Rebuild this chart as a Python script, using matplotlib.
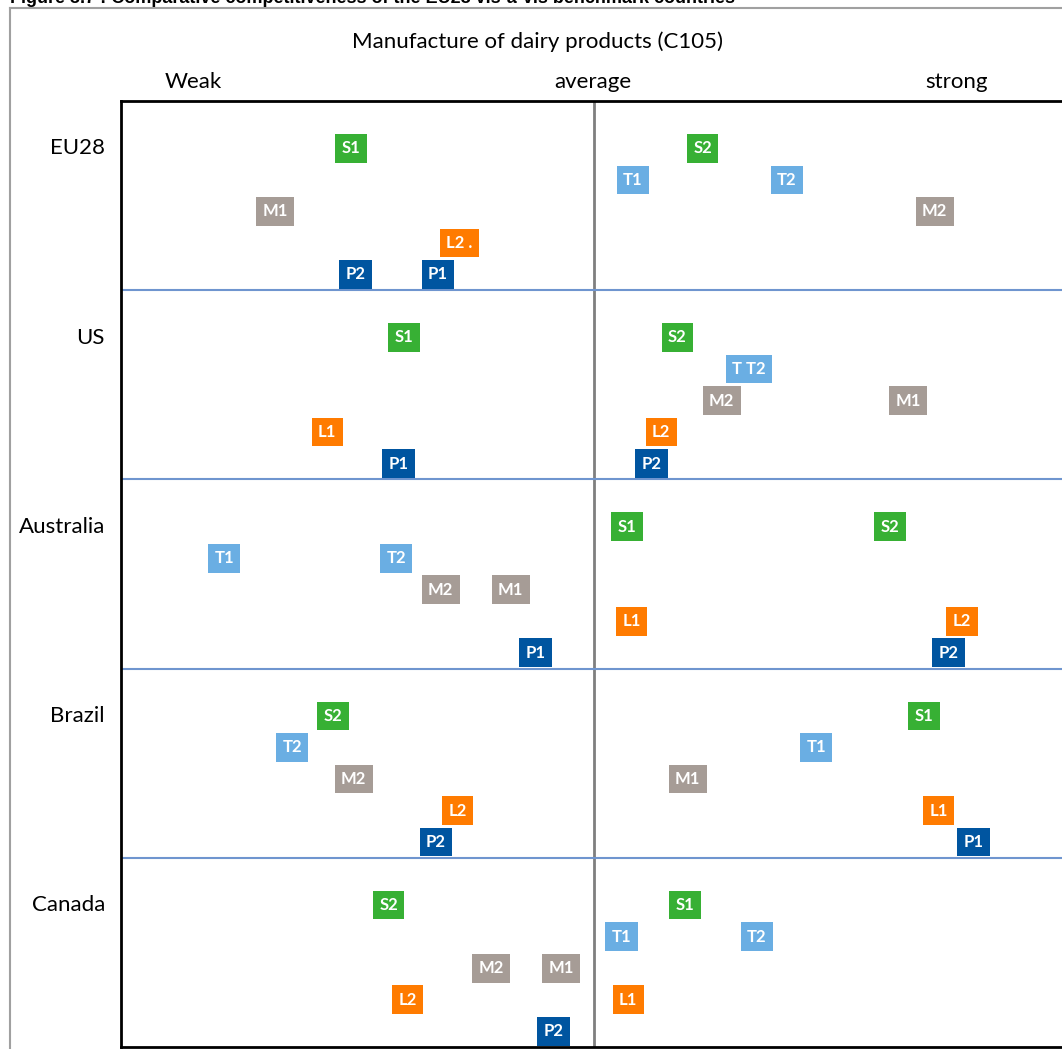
import matplotlib.pyplot as plt
from matplotlib.lines import Line2D

# Comparative competitiveness chart, dairy products (C105)
countries = ["EU28", "US", "Australia", "Brazil", "Canada"]
levels = {"S": 0, "T": 1, "M": 2, "L": 3, "P": 4}
colors = {"S": "#37b034", "T": "#6aaee3", "M": "#a69c96",
          "L": "#ff7b00", "P": "#0055a0"}

eu28_labels = ["S1", "S2", "T1", "T2", "M1", "M2", "L2 .", "P2", "P1"]
eu28_x = [24.3, 61.5, 54.1, 70.4, 16.3, 86.0, 35.8, 24.8, 33.5]

us_labels = ["S1", "S2", "T T2", "M2", "M1", "L1", "L2", "P1", "P2"]
us_x = [29.9, 58.8, 66.4, 63.5, 83.2, 21.8, 57.1, 29.3, 56.1]

aus_labels = ["S1", "S2", "T1", "T2", "M2", "M1", "L1", "L2", "P1", "P2"]
aus_x = [53.5, 81.3, 10.9, 29.1, 33.8, 41.2, 54.0, 88.9, 43.8, 87.5]

bra_labels = ["S2", "S1", "T2", "T1", "M2", "M1", "L2", "L1", "P2", "P1"]
bra_x = [22.4, 84.9, 18.1, 73.5, 24.6, 59.9, 35.6, 86.4, 33.3, 90.1]

can_labels = ["S2", "S1", "T1", "T2", "M2", "M1", "L2", "L1", "P2"]
can_x = [28.3, 59.6, 52.9, 67.2, 39.1, 46.5, 30.3, 53.6, 45.7]

all_labels = [eu28_labels, us_labels, aus_labels, bra_labels, can_labels]
all_x = [eu28_x, us_x, aus_x, bra_x, can_x]

W, H = 1062, 1049
fig = plt.figure(figsize=(W / 100, H / 100), dpi=100)
fig.patch.set_facecolor("white")

# caption, mostly cut off at the top edge (as in the source page)
fig.text(10 / W, 1 - 3 / H,
         "Figure 3.7 : Comparative competitiveness of the EU28 vis-\u00e0-vis benchmark countries",
         fontsize=13, fontweight="bold", family="Liberation Sans", va="baseline", ha="left")

# outer frame
fig.add_artist(Line2D([10 / W, 10 / W], [0, 1 - 8 / H], color="#a0a0a0", lw=1.5))
fig.add_artist(Line2D([10 / W, 1], [1 - 8 / H, 1 - 8 / H], color="#a0a0a0", lw=1.5))

plt.rcParams["font.family"] = ["Lato", "DejaVu Sans"]

ax_left, ax_right, ax_top, ax_bot = 121, 1067, 101, 1047
ax = fig.add_axes([ax_left / W, (H - ax_bot) / H,
                   (ax_right - ax_left) / W, (ax_bot - ax_top) / H])
ax.set_xlim(0, 100)
ax.set_ylim(30, 0)
ax.set_xticks([])
ax.set_yticks([])
for side in ["top", "left", "bottom", "right"]:
    ax.spines[side].set_linewidth(2)
    ax.spines[side].set_color("black")

ax.axvline(50, color="#7f7f7f", lw=2, zorder=1)
for i in range(1, 5):
    ax.axhline(i * 6, color="#6f95cf", lw=1.5, zorder=1)

for i, country in enumerate(countries):
    ax.text(-1.7, i * 6 + 1.5, country, fontsize=16, ha="right", va="center")
    for lab, x in zip(all_labels[i], all_x[i]):
        lvl = levels[lab[0]]
        ax.text(x, i * 6 + lvl + 1.5, lab, fontsize=12, fontweight="bold",
                color="white", ha="center", va="center", zorder=3,
                bbox=dict(boxstyle="square,pad=0.38", fc=colors[lab[0]], ec="none"))

fig.text(538 / W, 1 - 42 / H, "Manufacture of dairy products (C105)",
         fontsize=16, ha="center", va="center")
fig.text(193 / W, 1 - 82 / H, "Weak", fontsize=16, ha="center", va="center")
fig.text(593 / W, 1 - 82 / H, "average", fontsize=16, ha="center", va="center")
fig.text(957 / W, 1 - 82 / H, "strong", fontsize=16, ha="center", va="center")

fig.savefig("out.png", dpi=100)
